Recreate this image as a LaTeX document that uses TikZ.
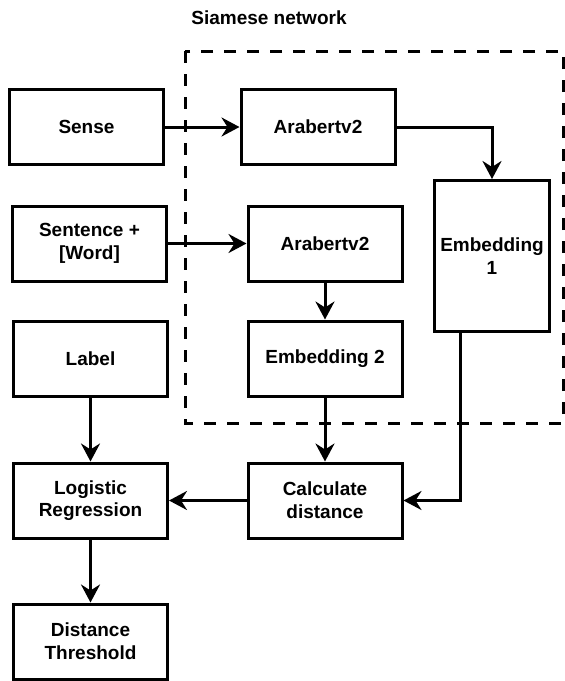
\documentclass[tikz,border=0pt]{standalone}
\usepackage{fontspec}
\setmainfont{Liberation Sans}
\usetikzlibrary{arrows.meta}

\begin{document}
\begin{tikzpicture}[x=1pt,y=-1pt,
    txt/.style={font=\bfseries\fontsize{19pt}{22.7pt}\selectfont,align=center},
    box/.style={txt,draw,line width=3pt,inner sep=0pt,minimum width=154pt,minimum height=75pt},
    flow/.style={line width=3pt,-{Stealth[length=18pt,width=19pt,inset=6pt]}}]
    \useasboundingbox (0,0) rectangle (565,681);
    %% siamese network
    \draw[line width=3pt,dash pattern=on 12pt off 11pt] (185,51) rectangle (563,423);
    \node[txt] (title) at (269,18) {Siamese network};
    %% boxes
    \node[box] (sense) at (86.5,127) {Sense};
    \node[box] (arab1) at (318,127) {Arabertv2};
    \node[box,minimum width=115pt,minimum height=151pt] (emb1) at (492,256) {Embedding\\1};
    \node[box] (sent) at (89.5,243.5) {Sentence +\\{[Word]}};
    \node[box] (arab2) at (325,243.5) {Arabertv2};
    \node[box] (label) at (90.5,358.5) {Label};
    \node[box] (emb2) at (325,358.5) {Embedding 2};
    \node[box] (logreg) at (90.5,500.5) {Logistic\\Regression};
    \node[box] (calc) at (325,500.5) {Calculate\\distance};
    \node[box] (thresh) at (90.5,641.5) {Distance\\Threshold};
    %% arrows
    \draw[flow] (sense) -- (arab1);
    \draw[flow] (arab1) -| (emb1);
    \draw[flow] (sent) -- (arab2);
    \draw[flow] (arab2) -- (emb2);
    \draw[flow] (emb2) -- (calc);
    \draw[flow] ([xshift=27pt]emb1.south west) |- (calc);
    \draw[flow] (calc) -- (logreg);
    \draw[flow] (label) -- (logreg);
    \draw[flow] (logreg) -- (thresh);
\end{tikzpicture}
\end{document}
